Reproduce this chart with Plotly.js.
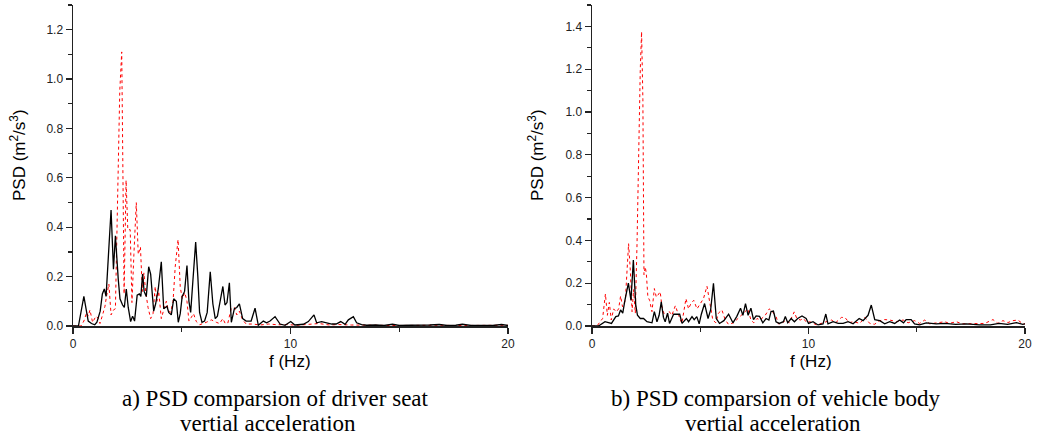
<!DOCTYPE html>
<html>
<head>
<meta charset="utf-8">
<script src="https://cdn.plot.ly/plotly-3.0.1.min.js"></script>
<style>html,body{margin:0;padding:0;background:#fff}#chart{width:1040px;height:436px}</style>
</head>
<body>
<div id="chart"></div>
<script>
// Left panel: driver seat vertical acceleration
const seatBlackF = [0,0.25,0.5,0.7,0.85,1.0,1.1,1.25,1.35,1.44,1.52,1.75,1.86,1.95,2.08,2.16,2.28,2.36,2.45,2.54,2.65,2.74,2.83,2.95,3.05,3.12,3.2,3.27,3.37,3.48,3.57,3.71,3.8,3.92,4.06,4.17,4.32,4.4,4.52,4.63,4.75,4.84,4.93,5.02,5.13,5.24,5.33,5.41,5.51,5.64,5.74,5.82,5.93,6.05,6.17,6.31,6.43,6.54,6.64,6.73,6.89,6.99,7.08,7.19,7.28,7.42,7.53,7.65,7.8,7.96,8.19,8.37,8.52,8.75,8.9,9.06,9.29,9.52,9.75,10.01,10.2,10.59,10.82,11.08,11.2,11.43,11.66,11.9,12.1,12.31,12.51,12.66,12.89,13.04,13.27,13.5,13.9,14.3,14.69,15.0,15.5,16.0,16.4,16.84,17.2,17.6,17.9,18.3,18.8,19.3,19.7,20];
const seatBlackV = [0,0,0.12,0.02,0.01,0.005,0.015,0.06,0.13,0.15,0.12,0.47,0.23,0.365,0.19,0.11,0.085,0.075,0.15,0.075,0.018,0.04,0.02,0.125,0.13,0.12,0.21,0.14,0.12,0.24,0.21,0.06,0.09,0.15,0.26,0.07,0.08,0.055,0.045,0.11,0.1,0.015,0.05,0.12,0.14,0.245,0.1,0.055,0.18,0.34,0.2,0.055,0.015,0.02,0.055,0.22,0.09,0.03,0.04,0.09,0.16,0.085,0.095,0.175,0.015,0.07,0.075,0.09,0.03,0.02,0.02,0.072,0.003,0.02,0.013,0.02,0.038,0.008,0.003,0.018,0.004,0.007,0.018,0.045,0.013,0.018,0.012,0.008,0.008,0.018,0.007,0.025,0.038,0.013,0.006,0.003,0.004,0.002,0.007,0.002,0.003,0.002,0.004,0.006,0.002,0.003,0.007,0.002,0.003,0.002,0.006,0.002];
const seatRedF = [0,0.37,0.5,0.63,0.7,0.78,0.9,1.06,1.17,1.24,1.36,1.47,1.54,1.65,1.75,1.86,1.95,2.05,2.15,2.24,2.35,2.44,2.52,2.63,2.71,2.8,2.91,3.0,3.1,3.19,3.26,3.34,3.45,3.57,3.68,3.78,3.86,3.94,4.06,4.17,4.29,4.38,4.49,4.6,4.7,4.83,4.93,5.02,5.14,5.24,5.33,5.44,5.54,5.67,5.82,6.13,6.36,6.59,6.74,6.89,7.0,7.12,7.27,7.42,7.53,7.65,7.8,7.96,8.27,8.6,9.0,9.4,9.8,10.3,10.8,11.3,11.8,12.2,12.8,13.4,14.0,14.6,15.2,16.0,16.8,17.6,18.4,19.2,20];
const seatRedV = [0,0,0.02,0.055,0.04,0.065,0.015,0.04,0.03,0.01,0.045,0.08,0.12,0.17,0.045,0.065,0.07,0.45,0.95,1.11,0.13,0.59,0.39,0.39,0.095,0.29,0.5,0.29,0.32,0.14,0.215,0.14,0.075,0.03,0.05,0.16,0.1,0.14,0.03,0.065,0.1,0.065,0.055,0.1,0.24,0.35,0.16,0.11,0.135,0.1,0.02,0.035,0.05,0.018,0.005,0.015,0.025,0.015,0.01,0.03,0.01,0.012,0.07,0.075,0.045,0.06,0.025,0.008,0.008,0.004,0.008,0.005,0.006,0.003,0.006,0.01,0.004,0.006,0.004,0.002,0.003,0.002,0.003,0.002,0.003,0.002,0.003,0.002,0.003];

// Right panel: vehicle body vertical acceleration
const bodyBlackF = [0,0.3,0.6,0.9,1.1,1.22,1.32,1.42,1.52,1.68,1.8,1.91,2.02,2.1,2.23,2.38,2.54,2.77,2.88,3.0,3.1,3.2,3.3,3.38,3.49,3.58,3.77,4.05,4.16,4.36,4.46,4.62,4.72,4.84,4.95,5.05,5.2,5.36,5.48,5.61,5.74,5.89,6.09,6.31,6.51,6.69,6.86,6.97,7.09,7.21,7.34,7.46,7.58,7.74,7.89,8.04,8.17,8.27,8.38,8.5,8.65,8.84,8.93,9.04,9.2,9.35,9.5,9.7,9.89,10.0,10.21,10.44,10.67,10.8,10.9,11.14,11.37,11.6,11.83,12.06,12.34,12.52,12.75,12.9,13.06,13.29,13.52,13.75,13.98,14.21,14.39,14.51,14.74,14.9,15.13,15.44,15.9,16.3,16.8,17.3,17.9,18.4,18.8,19.2,19.6,19.9,20];
const bodyBlackV = [0,0,0.02,0.012,0.044,0.047,0.075,0.06,0.12,0.2,0.12,0.308,0.1,0.05,0.035,0.035,0.02,0.015,0.067,0.02,0.05,0.113,0.04,0.02,0.06,0.012,0.055,0.055,0.012,0.035,0.02,0.044,0.03,0.044,0.01,0.055,0.105,0.035,0.075,0.2,0.035,0.012,0.025,0.055,0.015,0.045,0.083,0.05,0.105,0.05,0.083,0.03,0.047,0.045,0.015,0.035,0.028,0.068,0.07,0.02,0.012,0.02,0.044,0.015,0.035,0.02,0.035,0.047,0.035,0.012,0.02,0.005,0.01,0.056,0.01,0.02,0.012,0.012,0.02,0.01,0.035,0.025,0.05,0.098,0.03,0.025,0.01,0.02,0.012,0.028,0.015,0.03,0.03,0.01,0.005,0.015,0.01,0.012,0.008,0.01,0.005,0.005,0.012,0.008,0.016,0.008,0.01];
const bodyRedF = [0,0.23,0.49,0.62,0.71,0.8,0.89,1.0,1.12,1.23,1.32,1.41,1.54,1.69,1.77,1.85,1.92,2.0,2.08,2.15,2.23,2.29,2.35,2.4,2.46,2.51,2.58,2.66,2.77,2.88,2.97,3.05,3.15,3.23,3.35,3.46,3.57,3.69,3.85,4.0,4.15,4.34,4.46,4.57,4.7,4.85,5.0,5.15,5.31,5.46,5.58,5.72,5.84,6.0,6.15,6.3,6.54,6.69,6.85,7.05,7.2,7.34,7.47,7.62,7.77,8.0,8.19,8.34,8.5,8.61,8.77,8.95,9.11,9.34,9.46,9.62,9.77,9.92,10.06,10.38,10.67,11.06,11.25,11.52,11.68,11.88,12.1,12.37,12.6,12.83,13.05,13.29,13.52,13.75,14.06,14.37,14.6,14.9,15.13,15.37,15.6,16.06,16.3,16.5,16.83,17.1,17.44,17.8,18.14,18.52,18.75,18.98,19.21,19.44,19.67,19.9,20];
const bodyRedV = [0,0,0.035,0.15,0.05,0.11,0.028,0.08,0.066,0.08,0.14,0.09,0.12,0.385,0.26,0.067,0.17,0.06,0.385,0.82,1.2,1.375,1.06,0.24,0.276,0.245,0.137,0.12,0.067,0.175,0.135,0.145,0.16,0.09,0.05,0.044,0.067,0.05,0.095,0.05,0.012,0.128,0.08,0.105,0.12,0.08,0.105,0.128,0.186,0.09,0.028,0.015,0.06,0.075,0.03,0.008,0.015,0.03,0.045,0.066,0.08,0.028,0.015,0.035,0.028,0.05,0.08,0.066,0.045,0.01,0.012,0.028,0.015,0.066,0.035,0.028,0.035,0.015,0.02,0.005,0.016,0.028,0.015,0.04,0.04,0.016,0.02,0.012,0.04,0.012,0.008,0.025,0.03,0.028,0.02,0.028,0.015,0.025,0.012,0.028,0.01,0.016,0.02,0.012,0.02,0.01,0.01,0.01,0.012,0.03,0.012,0.025,0.016,0.025,0.028,0.01,0.01];

const xTickVals = [0, 10, 20];
const xTickText = ['0', '10', '20'];
const yTickLeft = [0, 0.2, 0.4, 0.6, 0.8, 1.0, 1.2];
const yTickRight = [0, 0.2, 0.4, 0.6, 0.8, 1.0, 1.2, 1.4];
const yTitle = 'PSD (m<sup>2</sup>/s<sup>3</sup>)';
const xTitle = 'f (Hz)';
const captions = [['a) PSD comparsion of driver seat', 'vertial acceleration'], ['b) PSD comparsion of vehicle body', 'vertial acceleration']];

const W = 1040, H = 436;
const red = {color: '#ff0000', width: 1, dash: 'dot'};
const black = {color: '#000000', width: 1.3};

const traces = [
  {x: seatRedF, y: seatRedV, xaxis: 'x', yaxis: 'y', mode: 'lines', line: red},
  {x: seatBlackF, y: seatBlackV, xaxis: 'x', yaxis: 'y', mode: 'lines', line: black},
  {x: bodyRedF, y: bodyRedV, xaxis: 'x2', yaxis: 'y2', mode: 'lines', line: red},
  {x: bodyBlackF, y: bodyBlackV, xaxis: 'x2', yaxis: 'y2', mode: 'lines', line: black}
];

const tickFont = {family: '"Liberation Sans", Arial, sans-serif', size: 12, color: '#222'};
function xAxis(d0, d1, anchor) {
  return {domain: [d0, d1], anchor: anchor, range: [0, 20], tickmode: 'array', tickvals: xTickVals, ticktext: xTickText,
    ticks: 'outside', ticklen: 6, tickwidth: 1.2, tickcolor: '#222', showline: true, linecolor: '#222', linewidth: 1.5,
    showgrid: false, zeroline: false, tickfont: tickFont, fixedrange: true,
    minor: {tickmode: 'array', tickvals: [5, 15], ticks: 'outside', ticklen: 4, tickcolor: '#222', tickwidth: 1.2, showgrid: false}};
}
function yAxis(d0, d1, anchor, top, vals) {
  return {domain: [d0, d1], anchor: anchor, range: [0, top], tickmode: 'array', tickvals: vals, ticktext: vals.map(v => v.toFixed(1)),
    ticks: 'outside', ticklen: 6, tickwidth: 1.2, tickcolor: '#222', showline: true, linecolor: '#222', linewidth: 1.5,
    showgrid: false, zeroline: false, tickfont: tickFont, fixedrange: true,
    minor: {dtick: 0.1, tick0: 0, ticks: 'outside', ticklen: 4, tickcolor: '#222', tickwidth: 1.2, showgrid: false}};
}
const yb = 1 - 326 / H, yt = 1 - 5 / H;
const ann = [];
const titleFont = {family: '"Liberation Sans", Arial, sans-serif', size: 17, color: '#000'};
const capFont = {family: '"Liberation Serif", "Times New Roman", Times, serif', size: 23, color: '#000'};
[[18, 290, 275, 268], [536, 811, 775, 773]].forEach((p, i) => {
  ann.push({xref: 'paper', yref: 'paper', x: p[0] / W, y: 1 - 155 / H, text: yTitle, textangle: -90, showarrow: false, font: titleFont, xanchor: 'center', yanchor: 'middle'});
  ann.push({xref: 'paper', yref: 'paper', x: p[1] / W, y: 1 - 361 / H, text: xTitle, showarrow: false, font: titleFont, xanchor: 'center', yanchor: 'middle'});
  ann.push({xref: 'paper', yref: 'paper', x: p[2] / W, y: 1 - 398 / H, text: captions[i][0], showarrow: false, font: capFont, xanchor: 'center', yanchor: 'middle'});
  ann.push({xref: 'paper', yref: 'paper', x: p[3] / W, y: 1 - 423 / H, text: captions[i][1], showarrow: false, font: capFont, xanchor: 'center', yanchor: 'middle'});
});

const layout = {
  width: W, height: H, margin: {l: 0, r: 0, t: 0, b: 0}, showlegend: false,
  paper_bgcolor: '#fff', plot_bgcolor: '#fff',
  xaxis: xAxis(73 / W, 508 / W, 'y'),
  yaxis: yAxis(yb, yt, 'x', 1.3, yTickLeft),
  xaxis2: xAxis(592 / W, 1025 / W, 'y2'),
  yaxis2: yAxis(yb, yt, 'x2', 1.5, yTickRight),
  annotations: ann
};
Plotly.newPlot('chart', traces, layout, {displayModeBar: false, staticPlot: true});
</script>
</body>
</html>
